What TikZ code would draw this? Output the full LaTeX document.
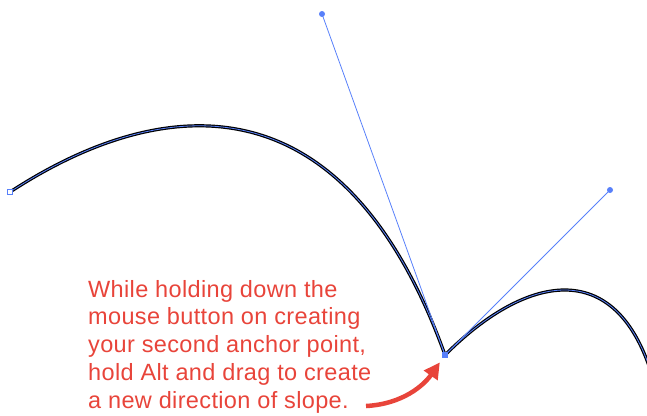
\documentclass[tikz,border=0pt]{standalone}
\usepackage{fontspec}
\setmainfont{Liberation Sans}
\newfontfamily\notefont[LetterSpace=1.5]{Liberation Sans}
\usetikzlibrary{arrows.meta, calc}

\definecolor{selblue}{RGB}{88,128,250}
\definecolor{notered}{RGB}{232,68,58}

\begin{document}
\begin{tikzpicture}[
    x=1pt, y=-1pt,
    % Define styles for reusable components
    pathline/.style={line width=3.2pt, black},
    selline/.style={line width=0.8pt, selblue},
    handle/.style={line width=0.8pt, selblue},
    handledot/.style={fill=selblue, draw=none},
    notearrow/.style={-{Triangle[length=16pt, width=16pt]}, line width=4.5pt, notered, shorten >=9pt}
]
    \useasboundingbox (0,0) rectangle (647,415);

    % --- ANCHORS AND HANDLES ---
    \coordinate (a1) at (10,192);
    \coordinate (a2) at (445,355);
    \coordinate (h1) at (322,14);
    \coordinate (h2) at (610,190);

    % --- THE PATH ---
    \begin{scope}
    \clip (0,0) rectangle (647,415);
    \foreach \st in {pathline, selline}{
        \draw[\st] (a1) .. controls (90,140) and (h1) .. (a2)
                        .. controls (525,275) and (615,255) .. (652,375);
    }
    \end{scope}

    % Handle lines
    \draw[handle] (a2) -- (h1);
    \draw[handle] (a2) -- (h2);
    \fill[handledot] (h1) circle (3pt);
    \fill[handledot] (h2) circle (3pt);
    \fill[handledot] ($(a2)+(-3,-3)$) rectangle ++(6,6);
    \draw[selblue, fill=white, line width=0.8pt] ($(a1)+(-2.5,-2.5)$) rectangle ++(5,5);

    % --- NOTE ---
    \node[anchor=north west, align=left, inner sep=0pt, text=notered,
          font=\notefont\fontsize{23.5}{27.7}\selectfont] (note) at (88,280)
        {While holding down the\\
         mouse button on creating\\
         your second anchor point,\\
         hold Alt and drag to create\\
         a new direction of slope.};

    \coordinate (tail) at (366,406);
    \draw[notearrow] (tail) to[out=3, in=235] (a2);

\end{tikzpicture}
\end{document}
